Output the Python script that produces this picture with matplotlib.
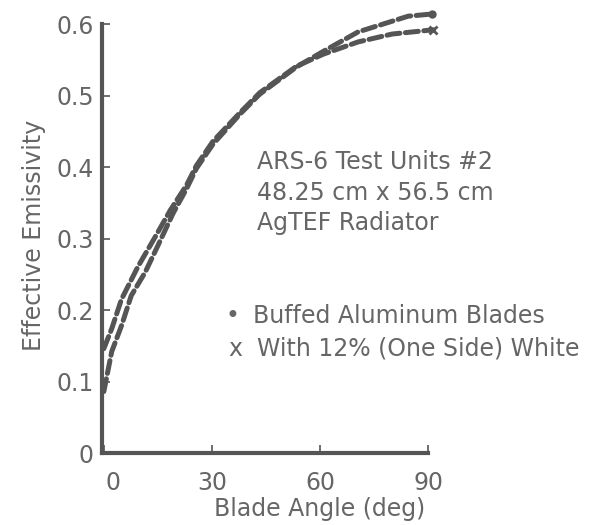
import matplotlib.pyplot as plt
from matplotlib.transforms import ScaledTranslation

plt.rcParams['font.family'] = ['DejaVu Sans']

# Buffed aluminum blades (dot marker at end)
buffed_angle = [0, 2.2, 4.9, 7.6, 11.5, 15, 19.2, 23, 25.7, 30.3, 37.8, 43.3, 53.5, 61, 70.6, 84.5, 91]
buffed_eps = [0.086, 0.142, 0.178, 0.22, 0.253, 0.29, 0.335, 0.37, 0.398, 0.432, 0.474, 0.502, 0.54, 0.562, 0.589, 0.611, 0.614]

# With 12% (one side) white (x marker at end)
white_angle = [0, 2.2, 4.9, 9.5, 14, 18.5, 23, 25.7, 30.3, 37.8, 43.3, 53.5, 61, 70.6, 80, 91.5]
white_eps = [0.146, 0.174, 0.215, 0.261, 0.30, 0.34, 0.375, 0.402, 0.436, 0.476, 0.504, 0.541, 0.558, 0.575, 0.586, 0.592]

xticks = [0, 30, 60, 90]
yticks = [0, 0.1, 0.2, 0.3, 0.4, 0.5, 0.6]
ytick_labels = ['0', '0.1', '0.2', '0.3', '0.4', '0.5', '0.6']

gray = '#555555'
text_gray = '#666666'
fs = 17

fig = plt.figure(figsize=(6.03, 5.25), dpi=100)
ax = fig.add_axes([0.1692, 0.1371, 0.5406, 0.8171])

for a, e in [(buffed_angle, buffed_eps), (white_angle, white_eps)]:
    ax.plot(a, e, color=gray, lw=3.6, dashes=(2.6, 1.1),
            dash_capstyle='round', clip_on=False)
ax.plot(buffed_angle[-1], buffed_eps[-1], 'o', color=gray, ms=5, clip_on=False)
ax.plot(white_angle[-1], white_eps[-1], 'x', color=gray, ms=6, mew=2, clip_on=False)

ax.set_xlim(-0.5, 90)
ax.set_ylim(0, 0.6)
ax.set_xticks(xticks)
ax.set_yticks(yticks)
ax.set_yticklabels(ytick_labels)

for side in ['top', 'right']:
    ax.spines[side].set_visible(False)
for side in ['left', 'bottom']:
    ax.spines[side].set_linewidth(3)
    ax.spines[side].set_color(gray)

ax.tick_params(direction='in', length=6, width=1.2, color=gray,
               labelsize=fs, labelcolor=text_gray)
ax.tick_params(axis='y', pad=6)
ax.tick_params(axis='x', pad=13)

# nudge the "0" label to the right like the original
lbl = ax.get_xticklabels()[0]
lbl.set_transform(lbl.get_transform() + ScaledTranslation(0.09, 0, fig.dpi_scale_trans))

ax.set_xlabel('Blade Angle (deg)', fontsize=fs, color=text_gray)
ax.xaxis.set_label_coords(0.669, -0.103)
ax.set_ylabel('Effective Emissivity', fontsize=fs, color=text_gray)
ax.yaxis.set_label_coords(-0.172, 0.508)

info = ['ARS-6 Test Units #2', '48.25 cm x 56.5 cm', 'AgTEF Radiator']
for line, yy in zip(info, [0.663, 0.589, 0.519]):
    ax.text(0.475, yy, line, transform=ax.transAxes, fontsize=fs,
            color=text_gray, va='baseline', ha='left')

ax.text(0.399, 0.302, '\u2022', transform=ax.transAxes, fontsize=fs,
        color=text_gray, va='baseline', ha='center')
ax.text(0.463, 0.302, 'Buffed Aluminum Blades', transform=ax.transAxes,
        fontsize=fs, color=text_gray, va='baseline', ha='left', clip_on=False)
ax.text(0.408, 0.227, 'x', transform=ax.transAxes, fontsize=fs,
        color=text_gray, va='baseline', ha='center')
ax.text(0.475, 0.227, 'With 12% (One Side) White', transform=ax.transAxes,
        fontsize=fs, color=text_gray, va='baseline', ha='left', clip_on=False)

fig.savefig('out.png', dpi=100)
